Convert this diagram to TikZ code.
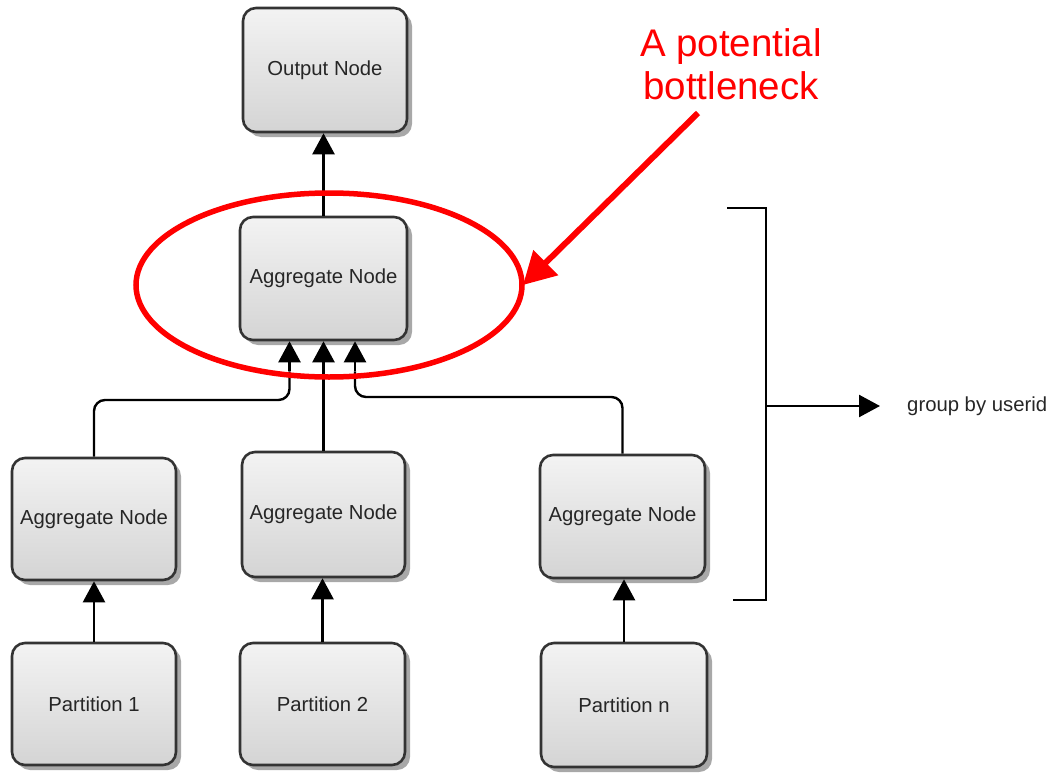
\documentclass[tikz,border=0pt]{standalone}
\usepackage{fontspec}
\setmainfont{Liberation Sans}
\usetikzlibrary{arrows.meta,shadows,shapes.geometric}
\definecolor{boxline}{HTML}{333333}
\definecolor{boxtop}{HTML}{F3F3F3}
\definecolor{boxbot}{HTML}{D4D4D4}
\definecolor{shadowgray}{HTML}{A8A8A8}
\tikzset{
  box/.style={rectangle, rounded corners=13pt, draw=boxline, line width=2.6pt,
    top color=boxtop, bottom color=boxbot, text=black!85,
    font=\fontsize{20.3}{24}\selectfont, inner sep=0pt,
    drop shadow={shadow xshift=5pt, shadow yshift=-5pt, fill=shadowgray, opacity=1}},
  conn/.style={line width=2.4pt, black, -{Triangle[length=21pt,width=22pt]}},
  link/.style={line width=2.4pt, black, rounded corners=11pt},
  callout/.style={red, line width=6pt, -{Triangle[length=32pt,width=34pt]}},
}
\begin{document}
\begin{tikzpicture}[x=1pt, y=-1pt]
\useasboundingbox (0,0) rectangle (1051,773);

% boxes
\node[box, minimum width=164pt, minimum height=124pt] (out)  at (325,70)    {Output Node};
\node[box, minimum width=167pt, minimum height=123pt] (agg)  at (323.5,278.5) {Aggregate Node};
\node[box, minimum width=164pt, minimum height=122pt] (aggL) at (94,519)    {Aggregate Node};
\node[box, minimum width=163pt, minimum height=125pt] (aggM) at (323.5,514.5) {Aggregate Node};
\node[box, minimum width=165pt, minimum height=123pt] (aggR) at (622.5,516.5) {Aggregate Node};
\node[box, minimum width=164pt, minimum height=122pt] (p1)   at (94,704)    {Partition 1};
\node[box, minimum width=165pt, minimum height=122pt] (p2)   at (322.5,704) {Partition 2};
\node[box, minimum width=166pt, minimum height=124pt] (pn)   at (624,705)   {Partition n};

% entry points on the central aggregate node
\coordinate (inL) at ([xshift=-34pt]agg.south);
\coordinate (inR) at ([xshift=31.5pt]agg.south);
\coordinate (lvlL) at (0,400);
\coordinate (lvlR) at (0,397);

% partitions feed the first aggregation level
\draw[conn] (p1.north) -- (p1.north |- aggL.south);
\draw[conn] (p2.north) -- (p2.north |- aggM.south);
\draw[conn] (pn.north) -- (pn.north |- aggR.south);

% first level feeds the single aggregate node
\draw[link] (aggL.north) |- (inL |- lvlL) -- ([yshift=-30pt]inL);
\draw[conn] ([yshift=-30pt]inL) -- (inL);
\draw[conn] (aggM.north) -- (agg.south);
\draw[link] (aggR.north) |- (inR |- lvlR) -- ([yshift=-30pt]inR);
\draw[conn] ([yshift=-30pt]inR) -- (inR);

% aggregate node feeds the output
\draw[conn] (agg.north) -- (agg.north |- out.south);

% bracket over the aggregation stage
\coordinate (bt1) at (727,208);
\coordinate (bt2) at (766,208);
\coordinate (bb2) at (766,600);
\coordinate (bb1) at (733,600);
\coordinate (bm) at (766,406);
\coordinate (bend) at (880,406);
\draw[line width=2.4pt, black] (bt1) -- (bt2) -- (bb2) -- (bb1);
\node[anchor=west, font=\fontsize{20.3}{24}\selectfont, text=black!85, inner sep=0pt] (grp) at (907,406) {group by userid};
\draw[conn] (bm) -- (bend);

% highlight of the bottleneck
\node[draw=red, line width=5.5pt, ellipse, minimum width=386pt, minimum height=184pt, inner sep=0pt] (ring) at (329,285) {};
\node[red, align=center, font=\fontsize{38.5}{43}\selectfont, inner sep=0pt] (note) at (731,64) {A potential\\bottleneck};
\coordinate (cstart) at (698,113);
\coordinate (ctip) at (523,285);
\draw[callout] (cstart) -- (ctip);
\end{tikzpicture}
\end{document}
